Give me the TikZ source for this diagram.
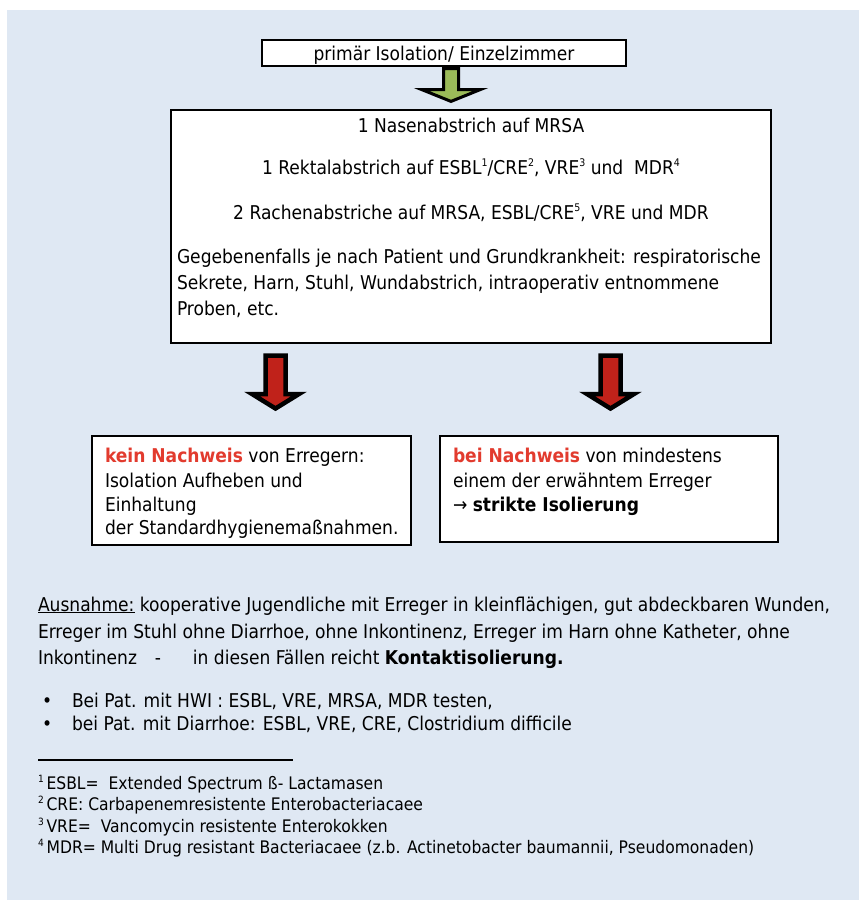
\documentclass[tikz,border=0pt]{standalone}
\usepackage{fontspec}
\setmainfont{DejaVu Sans Condensed}
\definecolor{bgblue}{HTML}{DFE8F3}
\definecolor{arrgreen}{HTML}{9BBB59}
\definecolor{arrred}{HTML}{C0221A}
\definecolor{hlred}{HTML}{E23B2E}
\newcommand{\fnsup}[1]{\raisebox{0.42em}{\fontsize{10.5}{10}\selectfont #1}}
\newcommand{\fnmark}[1]{\raisebox{0.4em}{\fontsize{10}{10}\selectfont #1}\,}
\begin{document}
\begin{tikzpicture}[x=1pt,y=-1pt,
  every node/.style={inner sep=0pt, outer sep=0pt},
  mainfont/.style={font=\fontsize{19}{23}\selectfont},
  txt/.style={mainfont, anchor=base west},
  ctxt/.style={mainfont, anchor=base},
  fntxt/.style={font=\fontsize{17.3}{20}\selectfont, anchor=base west},
  box/.style={draw=black, line width=1.2pt, fill=white},
  greenarrow/.style={draw=black, line width=3pt, line join=miter, fill=arrgreen},
  redarrow/.style={draw=black, line width=4.5pt, line join=miter, fill=arrred}]
\useasboundingbox (0,0) rectangle (859,900);
\fill[bgblue] (7,10) rectangle (859,900);

% boxes
\node[box, minimum width=364pt, minimum height=26pt] (topbox) at (444,53) {};
\node[box, minimum width=600pt, minimum height=233pt] (mainbox) at (471,226.5) {};
\node[box, minimum width=319pt, minimum height=109pt] (leftbox) at (251.5,490.5) {};
\node[box, minimum width=338pt, minimum height=106pt] (rightbox) at (609,489) {};

% block arrows
\draw[greenarrow] (443.5,68.5) -- (443.5,89.5) -- (421.5,89.5) -- (451,101.4)
  -- (480.5,89.5) -- (458.5,89.5) -- (458.5,68.5) -- cycle;
\draw[redarrow] (265.5,355.5) -- (265.5,394) -- (252,394) -- (275.5,408.5)
  -- (299,394) -- (285.5,394) -- (285.5,355.5) -- cycle;
\draw[redarrow] (600.5,355.5) -- (600.5,394) -- (587,394) -- (610.5,408.5)
  -- (634,394) -- (620.5,394) -- (620.5,355.5) -- cycle;

% top box text
\node[ctxt] (t0) at (444,60) {primär Isolation/ Einzelzimmer};

% main box text
\node[ctxt] (m1) at (471,132) {1 Nasenabstrich auf MRSA};
\node[ctxt] (m2) at (471,174) {1 Rektalabstrich auf ESBL\fnsup{1}/CRE\fnsup{2}, VRE\fnsup{3} und\ \ MDR\fnsup{4}};
\node[ctxt] (m3) at (471,219) {2 Rachenabstriche auf MRSA, ESBL/CRE\fnsup{5}, VRE und MDR};
\node[txt] (m4) at (177,263) {Gegebenenfalls je nach Patient und Grundkrankheit: respiratorische};
\node[txt] (m5) at (177,289) {Sekrete, Harn, Stuhl, Wundabstrich, intraoperativ entnommene};
\node[txt] (m6) at (177,315) {Proben, etc.};

% left box text
\node[txt] (l1) at (105,462) {\textbf{\color{hlred}kein Nachweis} von Erregern:};
\node[txt] (l2) at (105,487) {Isolation Aufheben und};
\node[txt] (l3) at (105,511) {Einhaltung};
\node[txt] (l4) at (105,534) {der Standardhygienemaßnahmen.};

% right box text
\node[txt] (r1) at (453,462) {\textbf{\color{hlred}bei Nachweis} von mindestens};
\node[txt] (r2) at (453,487) {einem der erwähntem Erreger};
\node[txt] (r3) at (453,511) {→ \textbf{strikte Isolierung}};

% exception paragraph
\node[txt] (a1) at (38,611) {\underline{Ausnahme:} kooperative Jugendliche mit Erreger in kleinflächigen, gut abdeckbaren Wunden,};
\node[txt] (a2) at (38,638) {Erreger im Stuhl ohne Diarrhoe, ohne Inkontinenz, Erreger im Harn ohne Katheter, ohne};
\node[txt] (a3) at (38,664) {\makebox[117pt][l]{Inkontinenz}\makebox[38pt][l]{-}in diesen Fällen reicht \textbf{Kontaktisolierung.}};

% bullets
\node[txt] (b1dot) at (42,707) {•};
\node[txt] (b1) at (72,707) {Bei Pat. mit HWI : ESBL, VRE, MRSA, MDR testen,};
\node[txt] (b2dot) at (42,730) {•};
\node[txt] (b2) at (72,730) {bei Pat. mit Diarrhoe: ESBL, VRE, CRE, Clostridium difficile};

% footnote rule
\coordinate (rulea) at (38,760);
\coordinate (ruleb) at (293,760);
\draw[line width=1.2pt] (rulea) -- (ruleb);

% footnotes
\node[fntxt] (f1) at (38,789) {\fnmark{1}ESBL=\ \ Extended Spectrum ß- Lactamasen};
\node[fntxt] (f2) at (38,810) {\fnmark{2}CRE: Carbapenemresistente Enterobacteriacaee};
\node[fntxt] (f3) at (38,832) {\fnmark{3}VRE=\ \ Vancomycin resistente Enterokokken};
\node[fntxt] (f4) at (38,853) {\fnmark{4}MDR= Multi Drug resistant Bacteriacaee (z.b. Actinetobacter baumannii, Pseudomonaden)};
\end{tikzpicture}
\end{document}
